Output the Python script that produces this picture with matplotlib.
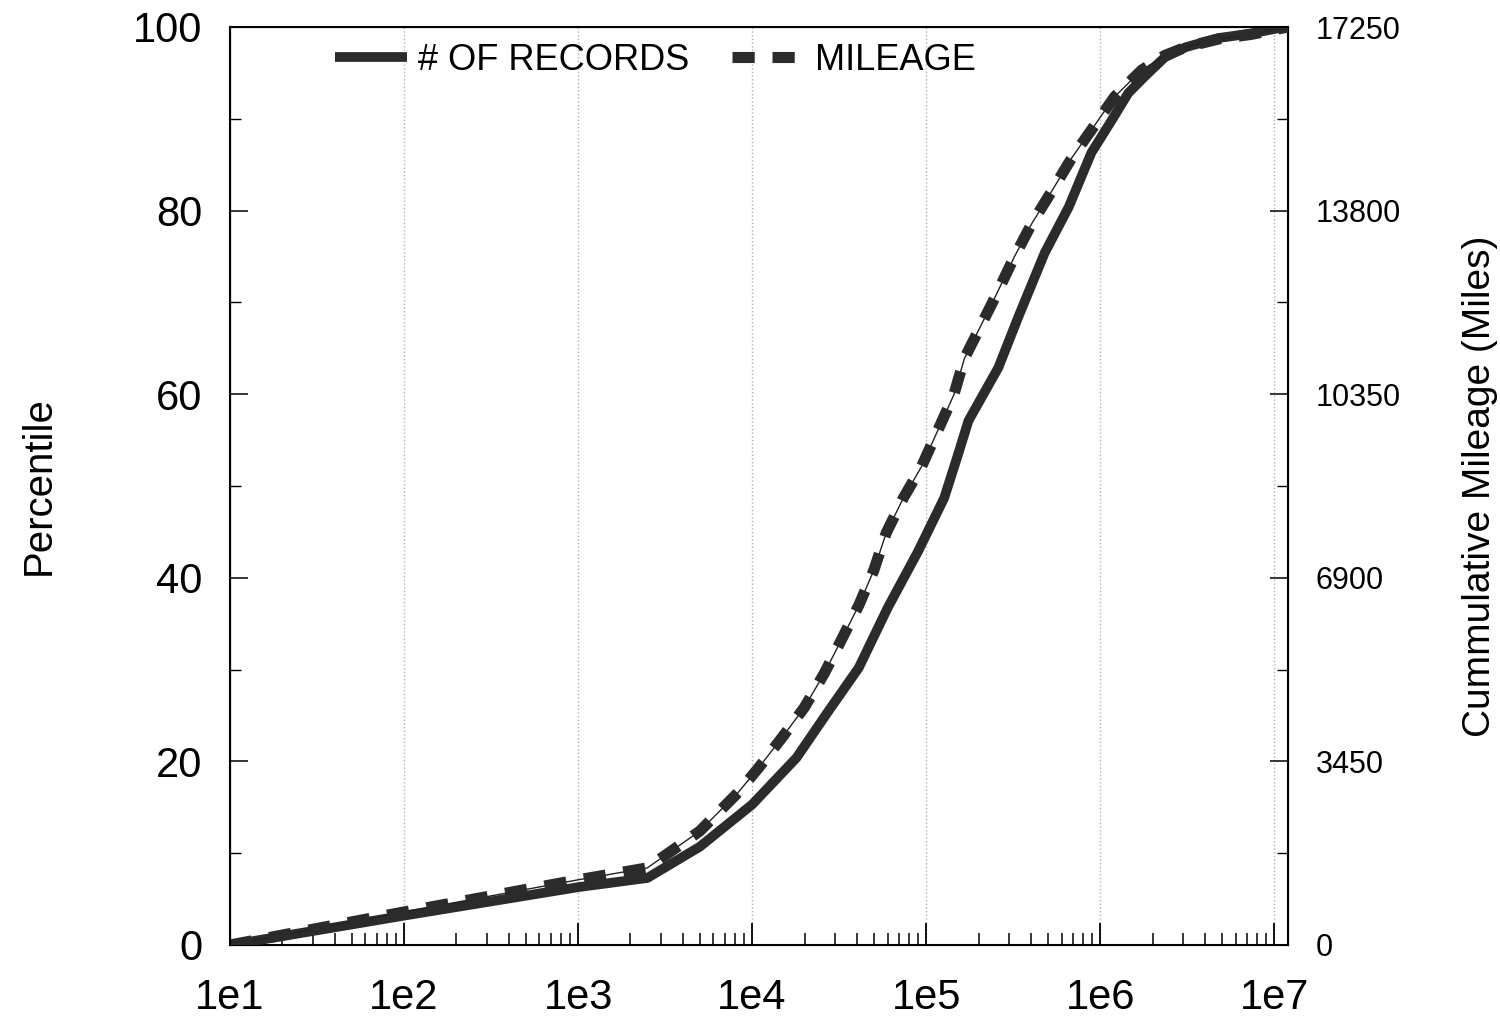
import numpy as np
import matplotlib
matplotlib.use('Agg')
import matplotlib.pyplot as plt
from matplotlib.ticker import LogLocator, FixedLocator, FixedFormatter, NullFormatter

plt.rcParams['font.family'] = ['Liberation Sans', 'DejaVu Sans']

# number of records (percentile)
rec_x = [10, 100, 1000, 2500, 5000, 1.0e4, 1.8e4, 2.75e4, 4.1e4, 6.0e4, 9.0e4, 1.27e5,
         1.5e5, 1.75e5, 2.6e5, 3.4e5, 4.8e5, 6.6e5, 8.9e5, 1.17e6, 1.45e6, 1.8e6, 2.35e6,
         3.1e6, 4.8e6, 7.4e6, 1.15e7]
rec_pct = [0, 3.2, 6.3, 7.3, 10.7, 15.3, 20.4, 25.5, 30.2, 36.7, 42.9, 48.7,
           53.0, 57.1, 62.9, 68.5, 75.4, 80.4, 86.3, 89.9, 92.8, 94.6, 96.7,
           97.8, 98.8, 99.3, 100]

# mileage (percentile)
mil_x = [10, 100, 1000, 2500, 5000, 8300, 1.1e4, 1.5e4, 2.0e4, 2.6e4, 3.25e4, 4.1e4,
         5.0e4, 5.9e4, 7.4e4, 9.4e4, 1.17e5, 1.44e5, 1.66e5, 2.45e5, 3.2e5, 4.05e5,
         5.3e5, 6.9e5, 9.3e5, 1.21e6, 1.73e6, 2.35e6, 3.1e6, 4.8e6, 7.4e6, 1.2e7]
mil_pct = [0, 3.6, 7.1, 8.4, 12.4, 16.6, 19.4, 22.7, 25.9, 29.6, 33.2, 37.0,
           40.8, 44.9, 48.7, 52.1, 56.1, 59.9, 63.9, 70.3, 74.9, 78.6,
           82.2, 85.8, 89.3, 92.4, 95.3, 96.9, 97.8, 98.7, 99.2, 100]

x_ticks = [1e1, 1e2, 1e3, 1e4, 1e5, 1e6, 1e7]
x_labels = ['1e1', '1e2', '1e3', '1e4', '1e5', '1e6', '1e7']
left_ticks = [0, 20, 40, 60, 80, 100]
right_ticks = [0, 3450, 6900, 10350, 13800, 17250]
total_miles = 17250

line_col = '#2b2b2b'

fig = plt.figure(figsize=(15, 10.18), dpi=100)
ax = fig.add_axes([230 / 1500, 73 / 1018, 1058 / 1500, 918 / 1018])

ax.plot(rec_x, rec_pct, color=line_col, lw=7, solid_capstyle='butt',
        solid_joinstyle='round', label='# OF RECORDS', zorder=3)
ax.plot(mil_x, mil_pct, color='#222222', lw=1, zorder=3)
ax.plot(mil_x, mil_pct, color=line_col, lw=8, dashes=(2.0, 1.6),
        label='MILEAGE', zorder=4)

ax.set_xscale('log')
ax.set_xlim(10, 1.2e7)
ax.set_ylim(0, 100)

ax.xaxis.set_major_locator(FixedLocator(x_ticks))
ax.xaxis.set_major_formatter(FixedFormatter(x_labels))
ax.xaxis.set_minor_locator(LogLocator(base=10, subs=np.arange(2, 10)))
ax.xaxis.set_minor_formatter(NullFormatter())
ax.set_yticks(left_ticks)
ax.set_yticks([10, 30, 50, 70, 90], minor=True)

ax.tick_params(axis='x', which='major', direction='in', length=16, width=1.3,
               labelsize=30, pad=24, top=False)
ax.tick_params(axis='x', which='minor', direction='in', length=9, width=1.1, top=False)
ax.tick_params(axis='y', which='major', direction='in', length=13, width=1.1,
               labelsize=30, pad=20, right=False)
ax.tick_params(axis='y', which='minor', direction='in', length=8, width=1.0, right=False)

ax.grid(True, which='major', axis='x', linestyle=':', color='#b0b0b0', lw=1)

for s in ax.spines.values():
    s.set_linewidth(1.5)

ax.set_ylabel('Percentile', fontsize=29, labelpad=54)

ax2 = ax.twinx()
ax2.set_ylim(0, total_miles)
ax2.set_yticks(right_ticks)
ax2.set_yticks([1725, 5175, 8625, 12075, 15525], minor=True)
ax2.tick_params(axis='y', which='major', direction='in', length=13, width=1.1,
                labelsize=22, pad=20)
ax2.tick_params(axis='y', which='minor', direction='in', length=8, width=1.0)
ax2.set_ylabel('Cummulative Mileage (Miles)', fontsize=28, labelpad=44)

leg = ax.legend(loc='center', bbox_to_anchor=(0.402, 0.964), ncol=2, frameon=False,
                fontsize=26, handlelength=2.0, handletextpad=0.3, columnspacing=1.2)

fig.savefig('out.png', dpi=100)
